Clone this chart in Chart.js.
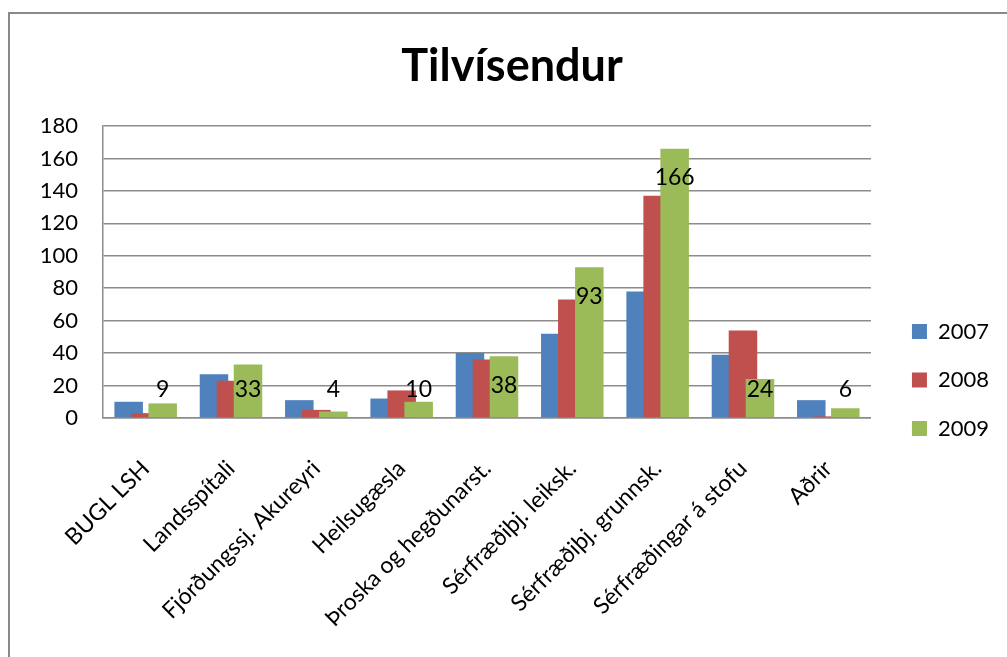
<!DOCTYPE html>
<html>
<head>
<meta charset="utf-8">
<title>Tilvísendur</title>
<script src="https://cdn.jsdelivr.net/npm/chart.js@4/dist/chart.umd.min.js"></script>
<style>
  html, body { margin: 0; padding: 0; background: #fff; overflow: hidden; }
  #wrap { position: relative; width: 1007px; height: 657px; }
  #frame { position: absolute; left: 8px; top: 12px; width: 1100px; height: 800px; border: 2px solid #898989; }
  #chart { position: absolute; left: 0; top: 0; }
</style>
</head>
<body>
<div id="wrap">
  <div id="frame"></div>
  <canvas id="chart" width="1007" height="657"></canvas>
</div>
<script>
// gögn lesin af myndinni
var categories = ['BUGL LSH', 'Landsspítali', 'Fjórðungssj. Akureyri', 'Heilsugæsla',
  'Þroska og hegðunarst.', 'Sérfræðiþj. leiksk.', 'Sérfræðiþj. grunnsk.',
  'Sérfræðingar á stofu', 'Aðrir'];
var seriesNames = ['2007', '2008', '2009'];
var values2007 = [10, 27, 11, 12, 40, 52, 78, 39, 11];
var values2008 = [3, 23, 5, 17, 36, 73, 137, 54, 1];
var values2009 = [9, 33, 4, 10, 38, 93, 166, 24, 6];
var yTicks = [0, 20, 40, 60, 80, 100, 120, 140, 160, 180];

var colors = ['#4F81BD', '#C0504D', '#9BBB59'];
var font = 'Lato, "Open Sans", sans-serif';
var gridGray = '#8c8c8c';

// draw series in index order so 2009 ends up on top (like excel overlap)
var drawOrder = {
  id: 'drawOrder',
  beforeDatasetsDraw: function(chart) {
    chart.data.datasets.forEach(function(ds, i) {
      var meta = chart.getDatasetMeta(i);
      if (!meta.hidden) meta.controller.draw();
    });
    return false;
  }
};

// value labels on 2009 bars only
var valueLabels = {
  id: 'valueLabels',
  afterDraw: function(chart) {
    var ctx = chart.ctx;
    var meta = chart.getDatasetMeta(2);
    var base = chart.scales.y.getPixelForValue(0);
    ctx.save();
    ctx.font = '23px ' + font;
    ctx.fillStyle = '#000';
    ctx.textAlign = 'center';
    ctx.textBaseline = 'middle';
    meta.data.forEach(function(bar, i) {
      var y = Math.min(bar.y + 29, base - 28);
      ctx.fillText(String(values2009[i]), bar.x, y);
    });
    ctx.restore();
  }
};

var data = {
  labels: categories,
  datasets: [values2007, values2008, values2009].map(function(vals, i) {
    return {
      label: seriesNames[i],
      data: vals,
      backgroundColor: colors[i],
      borderWidth: 0,
      categoryPercentage: 0.598,
      barPercentage: 1.676
    };
  })
};

new Chart(document.getElementById('chart'), {
  type: 'bar',
  data: data,
  plugins: [drawOrder, valueLabels],
  options: {
    responsive: false,
    animation: false,
    devicePixelRatio: 1,
    layout: { padding: { left: 25, right: 8, top: 0, bottom: 0 } },
    plugins: {
      tooltip: { enabled: false },
      title: {
        display: true,
        text: 'Tilvísendur',
        color: '#000',
        font: { family: font, size: 45, weight: 'bold', lineHeight: 1.2 },
        padding: { top: 39, bottom: 33 }
      },
      legend: {
        position: 'right',
        align: 'start',
        title: { display: true, text: ' ', font: { size: 10, lineHeight: 1 }, padding: { top: 284, bottom: 0 } },
        labels: {
          color: '#000',
          font: { family: font, size: 22 },
          boxWidth: 15,
          boxHeight: 15,
          padding: 26.5
        }
      }
    },
    scales: {
      x: {
        grid: { display: false },
        border: { display: true, color: gridGray, width: 1.5 },
        ticks: {
          color: '#000',
          font: { family: font, size: 23 },
          autoSkip: false,
          minRotation: 45,
          maxRotation: 45,
          padding: 29
        },
        afterFit: function(scale) { scale.height = 239; }
      },
      y: {
        min: 0,
        max: 180,
        afterBuildTicks: function(scale) {
          scale.ticks = yTicks.map(function(v) { return { value: v }; });
        },
        grid: { color: gridGray, lineWidth: 1.5, drawTicks: false },
        border: { display: true, color: gridGray, width: 1.5 },
        ticks: {
          color: '#000',
          font: { family: font, size: 22 },
          padding: 25
        },
        afterFit: function(scale) { scale.width = 78; }
      },
      y2: {
        type: 'linear',
        position: 'right',
        display: true,
        grid: { display: false, drawTicks: false },
        border: { display: false },
        ticks: { display: false },
        afterFit: function(scale) { scale.width = 14.5; }
      }
    }
  }
});
</script>
</body>
</html>
